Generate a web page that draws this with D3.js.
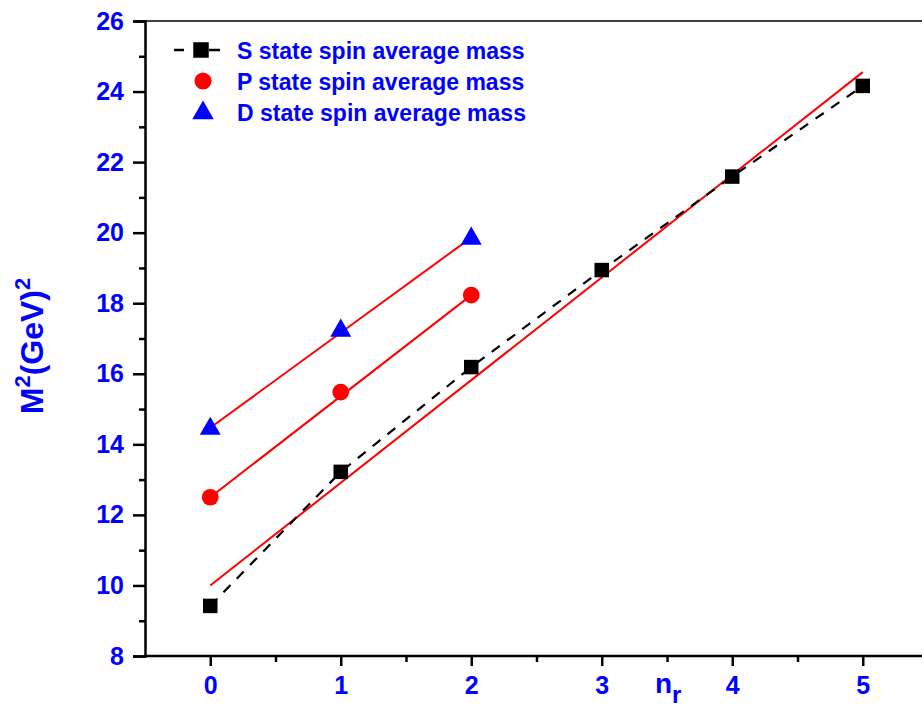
<!DOCTYPE html>
<html><head><meta charset="utf-8">
<script src="https://cdn.jsdelivr.net/npm/d3@7"></script>
<style>body{margin:0;background:#fff}svg{display:block}</style>
</head><body>
<script>
const nr = [0,1,2,3,4,5];
const sMass = [9.42,13.22,16.19,18.94,21.59,24.16];
const pMass = [12.5,15.48,18.23];
const dMass = [14.47,17.25,19.86];
// linear fit endpoints: [x0, y0, x1, y1]
const sFit = [0,10.0,5,24.55];
const pFit = [0,12.5,2,18.23];
const dFit = [0,14.47,2,19.86];
const yTicks = [8,10,12,14,16,18,20,22,24,26];
const xTicks = [0,1,2,3,4,5];
const legendLabels = ["S state spin average mass","P state spin average mass","D state spin average mass"];

const W=922,H=707;
const m={l:145,t:21,b:656,r:928};
const svg=d3.select("body").append("svg").attr("width",W).attr("height",H);
const x=d3.scaleLinear().domain([-0.5,5.5]).range([m.l,m.r]);
const y=d3.scaleLinear().domain([8,26]).range([m.b,m.t]);
const blue="#0000ff";
const font="Arial, 'Liberation Sans', sans-serif";

// frame top
svg.append("line").attr("x1",m.l).attr("x2",W).attr("y1",m.t).attr("y2",m.t).attr("stroke","#000").attr("stroke-width",1.5);

// axes
const xAx=svg.append("g").attr("transform",`translate(0,${m.b})`)
  .call(d3.axisBottom(x).tickValues(xTicks).tickSize(10).tickPadding(10).tickFormat(d3.format("d")));
const xMin=svg.append("g").attr("transform",`translate(0,${m.b})`)
  .call(d3.axisBottom(x).tickValues([0.5,1.5,2.5,3.5,4.5]).tickSize(6).tickFormat(""));
const yAx=svg.append("g").attr("transform",`translate(${m.l},0)`)
  .call(d3.axisLeft(y).tickValues(yTicks).tickSize(12).tickPadding(9).tickFormat(d3.format("d")));
const yMin=svg.append("g").attr("transform",`translate(${m.l},0)`)
  .call(d3.axisLeft(y).tickValues(d3.range(9,26,2)).tickSize(6).tickFormat(""));
[xAx,xMin,yAx,yMin].forEach(g=>{
  g.attr("font-size",25).attr("font-family",font);
  g.select(".domain").attr("stroke","#000").attr("stroke-width",2.5);
  g.selectAll(".tick line").attr("stroke","#000").attr("stroke-width",2.5);
  g.selectAll(".tick text").attr("fill",blue).attr("font-family",font).attr("font-weight","bold").attr("font-size",25);
});
xAx.select(".domain").attr("d",`M${m.l},0H${W}`);
xMin.select(".domain").remove();
yMin.select(".domain").remove();

// fit lines
const fitLine=(f)=>svg.append("line").attr("x1",x(f[0])).attr("y1",y(f[1])).attr("x2",x(f[2])).attr("y2",y(f[3]))
  .attr("stroke","#ff0000").attr("stroke-width",2);
[sFit,pFit,dFit].forEach(fitLine);

// S dashed line
const line=d3.line().x((d,i)=>x(nr[i])).y(d=>y(d));
svg.append("path").attr("d",line(sMass)).attr("fill","none").attr("stroke","#000").attr("stroke-width",2.2).attr("stroke-dasharray","10,9");

// markers
const sym=(type,size)=>d3.symbol().type(type).size(size)();
svg.selectAll(".s").data(sMass).enter().append("path").attr("d",sym(d3.symbolSquare,210))
  .attr("transform",(d,i)=>`translate(${x(nr[i])},${y(d)})`).attr("fill","#000");
svg.selectAll(".p").data(pMass).enter().append("path").attr("d",sym(d3.symbolCircle,220))
  .attr("transform",(d,i)=>`translate(${x(nr[i])},${y(d)})`).attr("fill","#ff0000");
svg.selectAll(".d").data(dMass).enter().append("path").attr("d",sym(d3.symbolTriangle,190))
  .attr("transform",(d,i)=>`translate(${x(nr[i])},${y(d)+1})`).attr("fill","#0000ff");

// legend
const lg=svg.append("g");
const ly=[50,81,112];
lg.append("line").attr("x1",174).attr("x2",184).attr("y1",ly[0]).attr("y2",ly[0]).attr("stroke","#000").attr("stroke-width",2.5);
lg.append("line").attr("x1",209).attr("x2",220).attr("y1",ly[0]).attr("y2",ly[0]).attr("stroke","#000").attr("stroke-width",2.5);
lg.append("path").attr("d",sym(d3.symbolSquare,240)).attr("transform",`translate(201,${ly[0]})`).attr("fill","#000");
lg.append("path").attr("d",sym(d3.symbolCircle,230)).attr("transform",`translate(203,${ly[1]})`).attr("fill","#ff0000");
lg.append("path").attr("d",sym(d3.symbolTriangle,200)).attr("transform",`translate(203,${ly[2]+1})`).attr("fill","#0000ff");
lg.selectAll("text").data(legendLabels).enter().append("text").attr("x",237).attr("y",(d,i)=>ly[i]+9)
  .text(d=>d).attr("fill",blue).attr("font-family",font).attr("font-weight","bold").attr("font-size",23);

// axis titles
const yt=svg.append("text").attr("transform","translate(43,346) rotate(-90)").attr("text-anchor","middle")
  .attr("fill",blue).attr("font-family",font).attr("font-weight","bold").attr("font-size",32);
yt.append("tspan").text("M");
yt.append("tspan").text("2").attr("dy",-13).attr("font-size",22);
yt.append("tspan").text("(GeV)").attr("dy",13);
yt.append("tspan").text("2").attr("dy",-13).attr("font-size",22);

const xt=svg.append("text").attr("x",655).attr("y",693).attr("text-anchor","start")
  .attr("fill",blue).attr("font-family",font).attr("font-weight","bold").attr("font-size",28);
xt.append("tspan").text("n");
xt.append("tspan").text("r").attr("dy",10).attr("font-size",24);
</script>
</body></html>
